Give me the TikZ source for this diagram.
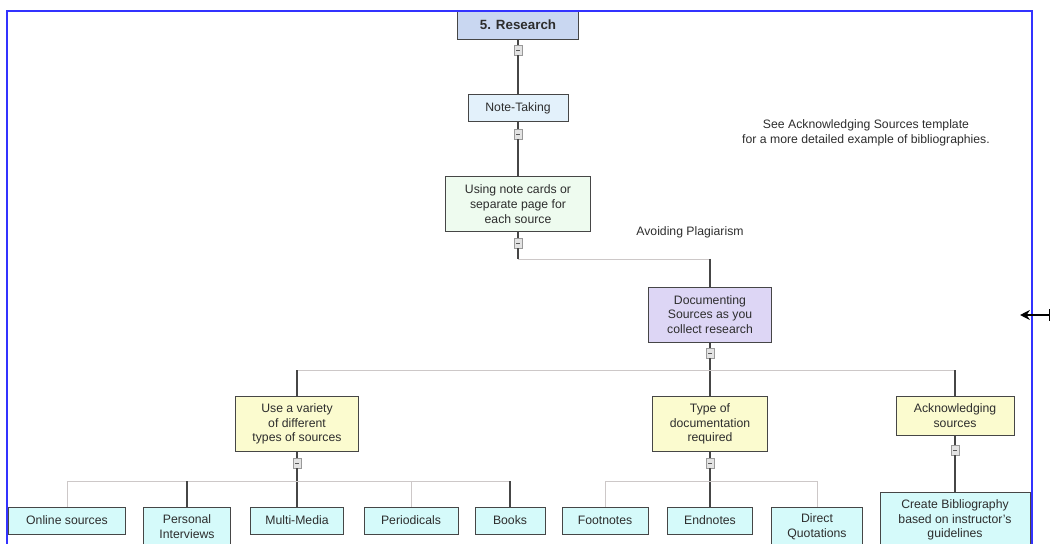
\documentclass[tikz,border=0pt]{standalone}
\usepackage{fontspec}
\setmainfont{Liberation Sans}
\usetikzlibrary{arrows.meta}
\usepackage{xcolor}
\definecolor{FillTop}{RGB}{201,215,241}
\definecolor{FillNote}{RGB}{227,241,251}
\definecolor{FillCard}{RGB}{238,251,239}
\definecolor{FillDoc}{RGB}{221,214,245}
\definecolor{FillMid}{RGB}{251,251,207}
\definecolor{FillLeaf}{RGB}{213,250,250}
\definecolor{LineBox}{RGB}{70,70,70}
\definecolor{LineBus}{RGB}{205,200,200}
\definecolor{TextBox}{RGB}{45,45,45}
\definecolor{FrameBlue}{RGB}{51,51,255}

\begin{document}
\begin{tikzpicture}[x=0.025cm, y=-0.025cm,
        box/.style={draw=LineBox, line width=0.7pt, align=center, inner sep=1pt, text=TextBox, font=\fontsize{8.7}{10.5}\selectfont},
        sz/.style 2 args={minimum width=#1cm, minimum height=#2cm},
        top/.style={box, fill=FillTop, font=\fontsize{9.5}{11}\selectfont\bfseries},
        note/.style={box, fill=FillNote},
        card/.style={box, fill=FillCard},
        doc/.style={box, fill=FillDoc},
        mid/.style={box, fill=FillMid},
        leaf/.style={box, fill=FillLeaf},
        tog/.style={draw=gray!80, fill=gray!22, line width=0.4pt, minimum width=0.2cm, minimum height=0.25cm, inner sep=0pt,
            path picture={\draw[gray!70!black, line width=0.4pt] ([xshift=-1.4pt]path picture bounding box.center) -- ([xshift=1.4pt]path picture bounding box.center);}},
        link/.style={draw=LineBox, line width=0.8pt},
        bus/.style={draw=LineBus, line width=0.6pt},
        lbl/.style={text=TextBox, align=center, font=\fontsize{8.7}{10.5}\selectfont}
    ]
    \useasboundingbox (0,0) rectangle (1051,544);

    % main chain
    \node[top, sz={3.0}{0.7}]      (research)   at (518,25)    {5. Research};
    \node[tog]                     (tgA)        at (518,50)    {};
    \node[note, sz={2.5}{0.675}]   (notetaking) at (518,108)   {Note-Taking};
    \node[tog]                     (tgB)        at (518,134)   {};
    \node[card, sz={3.6}{1.375}]   (notecards)  at (518,204)   {Using note cards or\\separate page for\\each source};
    \node[tog]                     (tgC)        at (518,243)   {};
    \coordinate                    (elbow)      at (518,259);
    \node[doc, sz={3.075}{1.375}]  (documenting) at (710,314.5) {Documenting\\Sources as you\\collect research};
    \node[tog]                     (tgD)        at (710,353)   {};
    \coordinate                    (busD)       at (710,370);

    % second level
    \node[mid, sz={3.075}{1.375}]  (variety)    at (297,424)   {Use a variety\\of different\\types of sources};
    \node[mid, sz={2.875}{1.375}]  (typedoc)    at (710,424)   {Type of\\documentation\\required};
    \node[mid, sz={2.95}{0.975}]   (ack)        at (955,416)   {Acknowledging\\sources};
    \node[tog]                     (tgE)        at (297,463)   {};
    \node[tog]                     (tgF)        at (710,463)   {};
    \node[tog]                     (tgG)        at (955,450)   {};
    \coordinate                    (busE)       at (297,481);
    \coordinate                    (busF)       at (710,481);

    % leaves
    \node[leaf, sz={2.9}{0.675}]   (online)     at (67,520.5)  {Online sources};
    \node[leaf, sz={2.175}{1.0}]   (personal)   at (187,527)   {Personal\\Interviews};
    \node[leaf, sz={2.325}{0.675}] (multimedia) at (297,520.5) {Multi-Media};
    \node[leaf, sz={2.35}{0.675}]  (periodicals) at (411,520.5) {Periodicals};
    \node[leaf, sz={1.75}{0.675}]  (books)      at (510,520.5) {Books};
    \node[leaf, sz={2.15}{0.675}]  (footnotes)  at (605,520.5) {Footnotes};
    \node[leaf, sz={2.125}{0.675}] (endnotes)   at (710,520.5) {Endnotes};
    \node[leaf, sz={2.275}{1.0}]   (direct)     at (817,527)   {Direct\\Quotations};
    \node[leaf, sz={3.75}{1.4}]    (createbib)  at (955,520)   {Create Bibliography\\based on instructor's\\guidelines};

    % free labels
    \node[lbl] (seeack)  at (866,133) {See Acknowledging Sources template\\for a more detailed example of bibliographies.};
    \node[lbl] (avoid)   at (690,232) {Avoiding Plagiarism};

    % connectors
    \draw[link] (research) -- (tgA);
    \draw[link] (tgA) -- (notetaking);
    \draw[link] (notetaking) -- (tgB);
    \draw[link] (tgB) -- (notecards);
    \draw[link] (notecards) -- (tgC);
    \draw[link] (tgC) -- (elbow);
    \draw[bus]  (elbow) -- (documenting.north |- elbow);
    \draw[link] (documenting.north |- elbow) -- (documenting);
    \draw[link] (documenting) -- (tgD);
    \draw[link] (tgD) -- (typedoc);
    \draw[bus]  (variety.north |- busD) -- (ack.north |- busD);
    \draw[link] (variety.north |- busD) -- (variety);
    \draw[link] (ack.north |- busD) -- (ack);

    \draw[link] (variety) -- (tgE);
    \draw[link] (tgE) -- (multimedia);
    \draw[bus]  (online.north |- busE) -- (books.north |- busE);
    \draw[bus]  (online.north |- busE) -- (online);
    \draw[link] (personal.north |- busE) -- (personal);
    \draw[bus]  (periodicals.north |- busE) -- (periodicals);
    \draw[link] (books.north |- busE) -- (books);

    \draw[link] (typedoc) -- (tgF);
    \draw[link] (tgF) -- (endnotes);
    \draw[bus]  (footnotes.north |- busF) -- (direct.north |- busF);
    \draw[bus]  (footnotes.north |- busF) -- (footnotes);
    \draw[bus]  (direct.north |- busF) -- (direct);

    \draw[link] (ack) -- (tgG);
    \draw[link] (tgG) -- (createbib);

    % page frame and side arrow
    \draw[FrameBlue, line width=1.4pt] (7,600) -- (7,11) -- (1032,11) -- (1032,600);
    \coordinate (sidetip) at (1020,315);
    \coordinate (sideend) at (1050,315);
    \draw[{Bar[width=8pt]}-{Stealth[length=7pt, width=7pt]}, line width=1pt] (sideend) -- (sidetip);
\end{tikzpicture}
\end{document}
